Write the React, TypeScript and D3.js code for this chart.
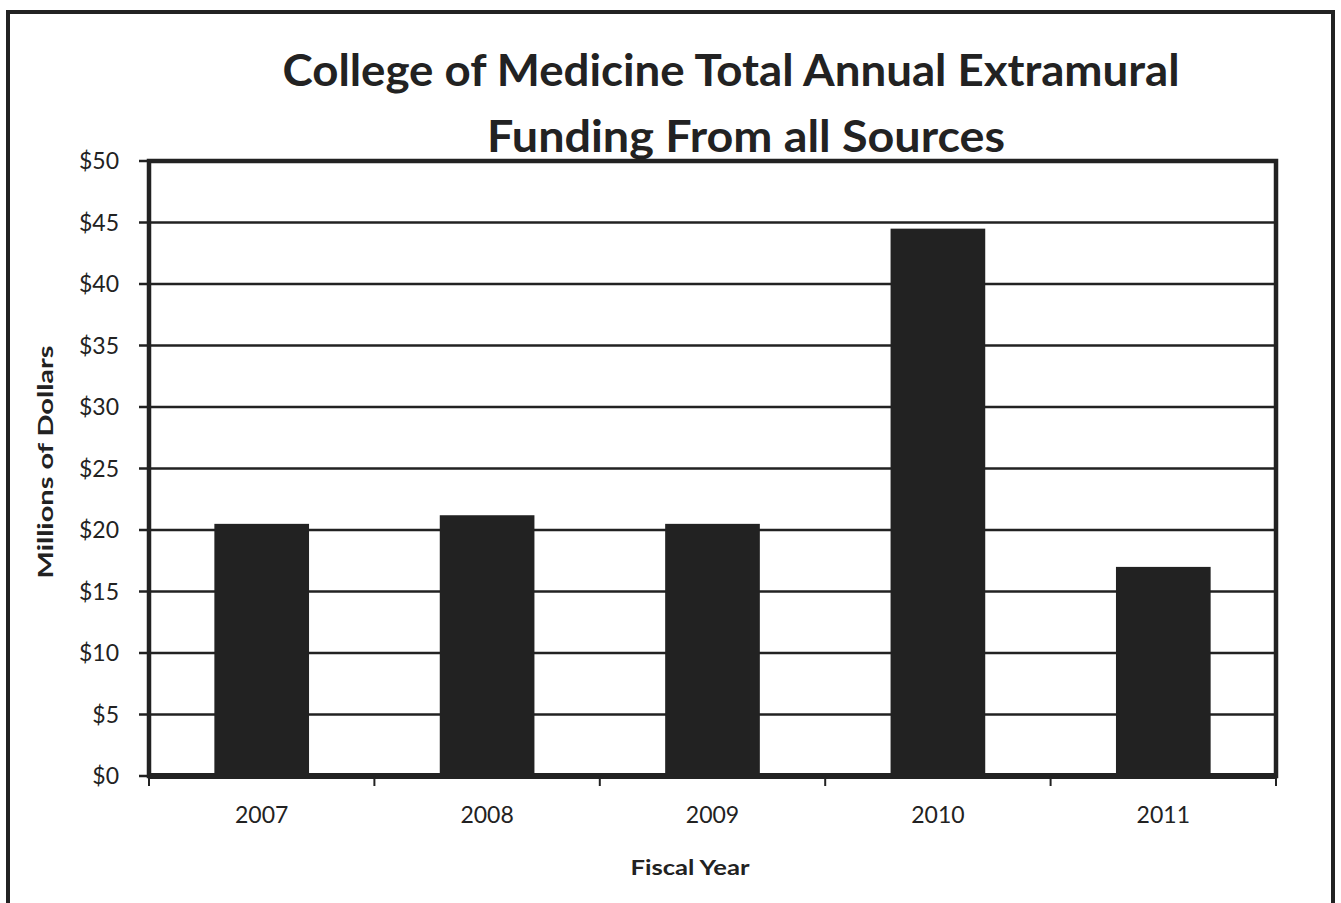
import React from "react";
import * as d3 from "d3";

const years = ["2007", "2008", "2009", "2010", "2011"];
const funding = [20.5, 21.2, 20.5, 44.5, 17.0];
const yTicks = [0, 5, 10, 15, 20, 25, 30, 35, 40, 45, 50];
const titleLines = ["College of Medicine Total Annual Extramural", "Funding From all Sources"];

const W = 1341;
const H = 903;
const plot = { left: 149, right: 1276, top: 161, bottom: 776 };
const ink = "#222";
const font = "Lato, 'Open Sans', sans-serif";

export default function App() {
  const x = d3.scaleBand<string>().domain(years).range([plot.left, plot.right]).paddingInner(0.58).paddingOuter(0.29);
  const xb = d3.scaleBand<string>().domain(years).range([plot.left, plot.right]);
  const y = d3.scaleLinear().domain([0, 50]).range([plot.bottom, plot.top]);

  const boundaries = years.map((yr) => xb(yr) as number).concat([plot.right]);

  return (
    <svg width={W} height={H} style={{ position: "absolute", left: 0, top: 0, background: "#fff" }}>
      <rect x={0} y={0} width={W} height={H} fill="#fff" />
      {/* outer frame */}
      <rect x={8} y={12} width={1325} height={H + 20} fill="none" stroke={ink} strokeWidth={4} />
      {/* title */}
      <text x={731} y={86} textAnchor="middle" fontFamily={font} fontWeight={700} fontSize={44} fill={ink}
        textLength={897} lengthAdjust="spacingAndGlyphs">{titleLines[0]}</text>
      <text x={746} y={152} textAnchor="middle" fontFamily={font} fontWeight={700} fontSize={44} fill={ink}
        textLength={518} lengthAdjust="spacingAndGlyphs">{titleLines[1]}</text>
      {/* gridlines */}
      {yTicks.map((t) => (
        <line key={"g" + t} x1={plot.left - 10} x2={plot.right} y1={y(t)} y2={y(t)} stroke={ink} strokeWidth={2.6} />
      ))}
      {/* bars */}
      {years.map((yr, i) => (
        <rect key={yr} x={x(yr)} y={y(funding[i])} width={x.bandwidth()} height={plot.bottom - y(funding[i])} fill={ink} />
      ))}
      {/* plot frame */}
      <rect x={plot.left} y={plot.top} width={plot.right - plot.left} height={plot.bottom - plot.top} fill="none" stroke={ink} strokeWidth={4.5} />
      <line x1={plot.left} x2={plot.right} y1={plot.bottom} y2={plot.bottom} stroke={ink} strokeWidth={6} />
      {/* x ticks */}
      {boundaries.map((b, i) => (
        <line key={"xt" + i} x1={b} x2={b} y1={plot.bottom} y2={plot.bottom + 10} stroke={ink} strokeWidth={2} />
      ))}
      {/* y tick labels */}
      {yTicks.map((t) => (
        <text key={"yl" + t} x={119} y={y(t)} dy="0.35em" textAnchor="end" fontFamily={font} fontSize={23} fill={ink}>
          {"$" + t}
        </text>
      ))}
      {/* x tick labels */}
      {years.map((yr) => (
        <text key={"xl" + yr} x={(xb(yr) as number) + xb.bandwidth() / 2} y={815} dy="0.35em" textAnchor="middle" fontFamily={font} fontSize={23} fill={ink}>
          {yr}
        </text>
      ))}
      {/* axis titles */}
      <text x={690} y={868} dy="0.35em" textAnchor="middle" fontFamily={font} fontWeight={700} fontSize={21} fill={ink}
        textLength={119} lengthAdjust="spacingAndGlyphs">Fiscal Year</text>
      <text transform={`translate(46,462) rotate(-90)`} dy="0.35em" textAnchor="middle" fontFamily={font} fontWeight={700} fontSize={21} fill={ink}
        textLength={233} lengthAdjust="spacingAndGlyphs">Millions of Dollars</text>
    </svg>
  );
}
